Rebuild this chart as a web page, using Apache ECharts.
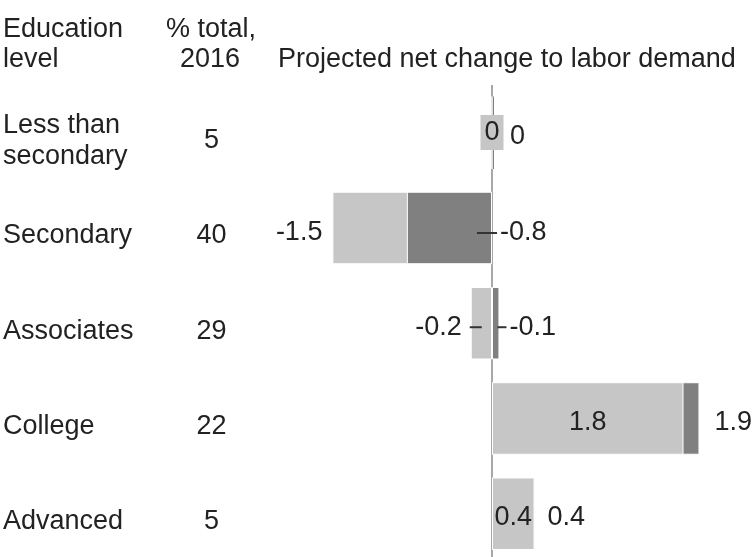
<!DOCTYPE html>
<html>
<head>
<meta charset="utf-8">
<script src="https://cdn.jsdelivr.net/npm/echarts@6/dist/echarts.min.js"></script>
<style>
  html, body { margin: 0; padding: 0; background: #fff; }
  #chart { width: 752px; height: 557px; }
</style>
</head>
<body>
<div id="chart"></div>
<script>
// education levels, top to bottom
const CATEGORIES = ['Less than\nsecondary', 'Secondary', 'Associates', 'College', 'Advanced']
// share of total, 2016 (%)
const SHARE_2016 = [5, 40, 29, 22, 5]
// projected net change, light bars (length as drawn)
const LIGHT_VALUES = [0, -1.5, -0.2, 1.8, 0.4]
// projected net change, dark bars (length as drawn)
const DARK_VALUES = [0, -0.8, 0.07, 1.95, 0.4]
// printed value labels
const LIGHT_LABELS = ['0', '-1.5', '-0.2', '1.8', '0.4']
const DARK_LABELS = ['0', '-0.8', '-0.1', '1.9', '0.4']

const FONT = 'Liberation Sans'
const TEXT_COLOR = '#222'
const LIGHT_COLOR = '#c6c6c6'
const DARK_COLOR = '#808080'
const AXIS_COLOR = '#a8a8a8'

const textStyle = { fontFamily: FONT, fontSize: 27, color: TEXT_COLOR }

// where each value label sits (leaders are the little lines next to moved labels)
const LIGHT_PLACEMENT = [
  { position: 'inside', offset: [0, -0.25], backgroundColor: LIGHT_COLOR, padding: [8, 4, 0, 4] },
  { position: 'left', distance: 10, offset: [0, 5] },
  { position: 'left', distance: 0, offset: [11, 4], leaderSide: 'after', leaderWidth: 12, gap: 8 },
  { position: 'inside', offset: [0, 4] },
  { position: 'inside', offset: [0, 4] }
]
const DARK_PLACEMENT = [
  { position: 'right', distance: 16, offset: [0, 4] },
  { position: 'right', distance: 0, offset: [-15, 5], leaderSide: 'before', leaderWidth: 20, gap: 3 },
  { position: 'right', distance: 0, offset: [-2, 4], leaderSide: 'before', leaderWidth: 9, gap: 3 },
  { position: 'right', distance: 15, offset: [0, 4] },
  { position: 'right', distance: 13, offset: [0, 4] }
]

const buildLabel = (text, place) => {
  const { leaderSide, leaderWidth, gap, ...rest } = place
  const label = { show: true, ...textStyle, textBorderWidth: 0, ...rest }
  if (!leaderSide) return { ...label, formatter: text }
  const after = leaderSide === 'after'
  label.formatter = after ? `{t|${text}}{ln| }` : `{ln| }{t|${text}}`
  label.rich = {
    t: { ...textStyle, padding: after ? [0, gap, 0, 0] : [0, 0, 0, gap] },
    ln: { width: leaderWidth, height: 2, backgroundColor: '#333' }
  }
  return label
}

const lightData = LIGHT_VALUES.map((v, i) => ({ value: v, label: buildLabel(LIGHT_LABELS[i], LIGHT_PLACEMENT[i]) }))
const darkItem = (i) => ({
  value: DARK_VALUES[i],
  label: buildLabel(DARK_LABELS[i], DARK_PLACEMENT[i]),
  // a zero bar only shows as its 2px minimum sliver, keep it without border
  itemStyle: DARK_VALUES[i] === 0 ? { borderWidth: 0 } : {}
})
// the longer bar of each pair is drawn behind the shorter one
const darkBack = DARK_VALUES.map((v, i) => (Math.abs(v) >= Math.abs(LIGHT_VALUES[i]) ? darkItem(i) : '-'))
const darkFront = DARK_VALUES.map((v, i) => (Math.abs(v) < Math.abs(LIGHT_VALUES[i]) ? darkItem(i) : '-'))

const barBase = {
  type: 'bar',
  xAxisIndex: 0,
  yAxisIndex: 2,
  barWidth: 72.5,
  barGap: '-100%',
  silent: true,
  itemStyle: { borderColor: '#fff', borderWidth: 1 }
}

const headStyle = (text, align) => ({
  text,
  fill: TEXT_COLOR,
  font: `27px "${FONT}"`,
  align,
  verticalAlign: 'middle'
})

const GRID_LEFT = 279.2
const GRID_RIGHT = 47.2
const GRID_TOP = 85.1
const GRID_BOTTOM = -4.35
// the row texts sit a little lower than the bars
const TEXT_SHIFT = 8

const chart = echarts.init(document.getElementById('chart'), null, { renderer: 'canvas' })

chart.setOption({
  animation: false,
  grid: [
    { left: GRID_LEFT, right: GRID_RIGHT, top: GRID_TOP, bottom: GRID_BOTTOM, outerBoundsMode: 'none' },
    { left: GRID_LEFT, right: GRID_RIGHT, top: GRID_TOP + TEXT_SHIFT, bottom: GRID_BOTTOM - TEXT_SHIFT, outerBoundsMode: 'none' }
  ],
  xAxis: [
    { type: 'value', gridIndex: 0, min: -2, max: 2, show: false },
    { type: 'value', gridIndex: 1, min: -2, max: 2, show: false }
  ],
  yAxis: [
    {
      type: 'category',
      gridIndex: 1,
      data: CATEGORIES,
      inverse: true,
      position: 'left',
      axisLine: { show: false },
      axisTick: { show: false },
      axisLabel: { ...textStyle, interval: 0, align: 'left', margin: GRID_LEFT - 3, lineHeight: 31 }
    },
    {
      type: 'category',
      gridIndex: 1,
      data: SHARE_2016.map(String),
      inverse: true,
      position: 'left',
      axisLine: { show: false },
      axisTick: { show: false },
      axisLabel: { ...textStyle, interval: 0, align: 'center', margin: GRID_LEFT - 211.5 }
    },
    {
      type: 'category',
      gridIndex: 0,
      data: CATEGORIES,
      inverse: true,
      show: false
    }
  ],
  graphic: [
    { type: 'text', x: 3, y: 30, style: headStyle('Education', 'left') },
    { type: 'text', x: 3, y: 60, style: headStyle('level', 'left') },
    { type: 'text', x: 166, y: 30, style: headStyle('% total,', 'left') },
    { type: 'text', x: 240, y: 60, style: headStyle('2016', 'right') },
    { type: 'text', x: 278, y: 60, style: headStyle('Projected net change to labor demand', 'left') }
  ],
  series: [
    { ...barBase, name: 'dark-back', data: darkBack, barMinHeight: 2, itemStyle: { ...barBase.itemStyle, color: DARK_COLOR } },
    {
      ...barBase,
      name: 'light',
      data: lightData,
      itemStyle: { ...barBase.itemStyle, color: LIGHT_COLOR },
      markLine: {
        silent: true,
        z: 2,
        symbol: ['none', 'none'],
        label: { show: false },
        lineStyle: { color: AXIS_COLOR, width: 2, type: 'solid' },
        data: [{ xAxis: 0 }]
      }
    },
    { ...barBase, name: 'dark-front', data: darkFront, barMinHeight: 2, itemStyle: { ...barBase.itemStyle, color: DARK_COLOR } }
  ]
})
</script>
</body>
</html>
